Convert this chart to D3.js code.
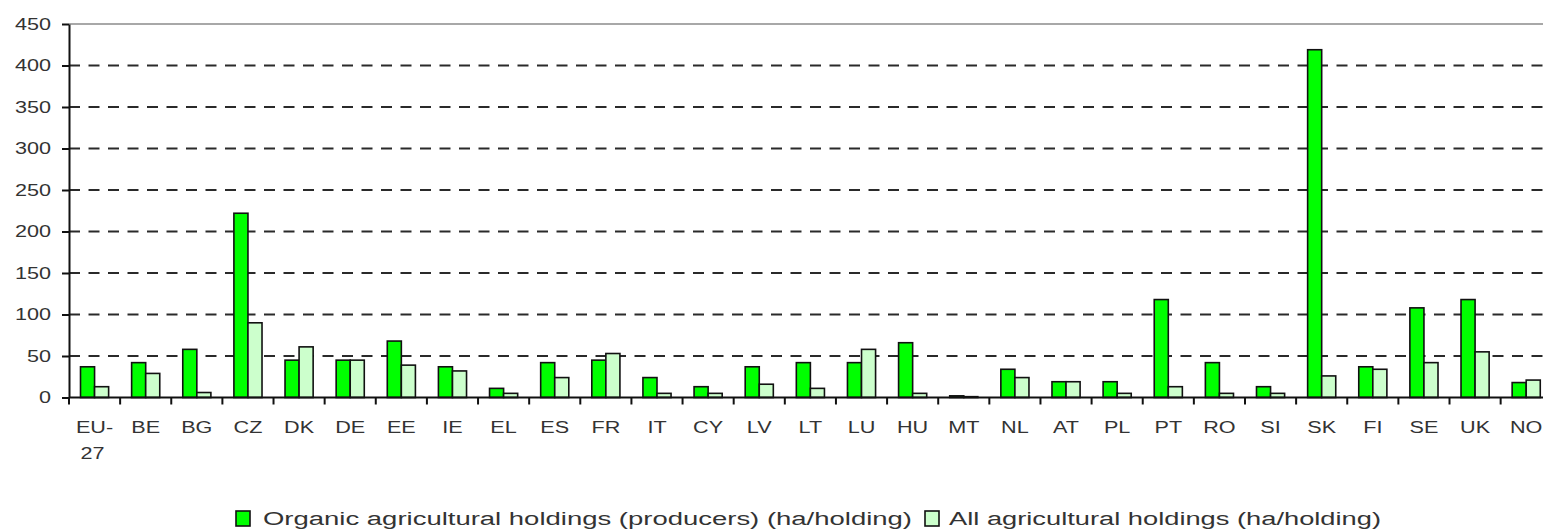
<!DOCTYPE html>
<html>
<head>
<meta charset="utf-8">
<script src="https://cdn.jsdelivr.net/npm/d3@7"></script>
<style>
  body { margin: 0; background: #fff; }
  svg { display: block; font-family: "Liberation Sans", Arial, sans-serif; }
  .axis text { fill: #333; font-size: 16px; }
</style>
</head>
<body>
<svg id="chart"></svg>
<script>
// country codes along the x axis
const categories = ["EU-27", "BE", "BG", "CZ", "DK", "DE", "EE", "IE", "EL", "ES", "FR", "IT", "CY", "LV",
  "LT", "LU", "HU", "MT", "NL", "AT", "PL", "PT", "RO", "SI", "SK", "FI", "SE", "UK", "NO"];

// ha per holding
const organic = [37, 42, 58, 222, 45, 45, 68, 37, 11, 42, 45, 24, 13, 37,
  42, 42, 66, 2, 34, 19, 19, 118, 42, 13, 419, 37, 108, 118, 18];
const allHoldings = [13, 29, 6, 90, 61, 45, 39, 32, 5, 24, 53, 5, 5, 16,
  11, 58, 5, 1, 24, 19, 5, 13, 5, 5, 26, 34, 42, 55, 21];

const seriesNames = ["Organic agricultural holdings (producers) (ha/holding)", "All agricultural holdings (ha/holding)"];
const seriesColors = ["#00ff00", "#ccffcc"];
const yTicks = [0, 50, 100, 150, 200, 250, 300, 350, 400, 450];

const W = 1543, H = 530;
const plotLeft = 69, plotTop = 24, plotBottom = 397.5;
const band = 51.13;
const stretch = 1.35; // the source picture is widened horizontally

const data = categories.map((c, i) => ({ category: c, values: [organic[i], allHoldings[i]] }));

const svg = d3.select("#chart").attr("width", W).attr("height", H);

const x = d3.scaleBand()
  .domain(categories)
  .range([plotLeft, plotLeft + band * categories.length])
  .padding(0);

const x1 = d3.scaleBand()
  .domain([0, 1])
  .range([x.bandwidth() * 0.225, x.bandwidth() * 0.775])
  .padding(0);

const y = d3.scaleLinear().domain([0, 450]).range([plotBottom, plotTop]);

// gridlines, dashed except the top one
svg.append("g").selectAll("line")
  .data(yTicks.filter(t => t > 0))
  .enter().append("line")
  .attr("x1", plotLeft).attr("x2", x.range()[1])
  .attr("y1", d => y(d)).attr("y2", d => y(d))
  .attr("stroke", d => d === 450 ? "#a8a8a8" : "#2a2a2a")
  .attr("stroke-width", 2)
  .attr("stroke-dasharray", d => d === 450 ? null : "11,8.5");

// bars
const groups = svg.append("g").selectAll("g")
  .data(data)
  .enter().append("g")
  .attr("transform", d => `translate(${x(d.category)},0)`);

groups.selectAll("rect")
  .data(d => d.values.map((v, k) => ({ k: k, v: v })))
  .enter().append("rect")
  .attr("x", d => x1(d.k))
  .attr("width", x1.bandwidth())
  .attr("y", d => y(d.v))
  .attr("height", d => plotBottom - y(d.v))
  .attr("fill", d => seriesColors[d.k])
  .attr("stroke", "#111")
  .attr("stroke-width", 1.6);

// y axis
const yAxis = svg.append("g")
  .attr("class", "axis")
  .attr("transform", `translate(${plotLeft},0)`)
  .call(d3.axisLeft(y).tickValues(yTicks).tickSize(7).tickSizeOuter(0).tickPadding(11));
yAxis.select(".domain").attr("stroke", "#111").attr("stroke-width", 2);
yAxis.selectAll(".tick line").attr("stroke", "#111").attr("stroke-width", 2);
yAxis.selectAll("text").style("font-size", "16px").attr("fill", "#333");

// x axis: baseline and ticks at the category boundaries
const xAxis = svg.append("g").attr("class", "axis");
xAxis.append("line")
  .attr("x1", plotLeft).attr("x2", x.range()[1])
  .attr("y1", plotBottom).attr("y2", plotBottom)
  .attr("stroke", "#111").attr("stroke-width", 2);

const bounds = categories.map(c => x(c)).concat([x.range()[1]]);
xAxis.selectAll(".xtick")
  .data(bounds)
  .enter().append("line")
  .attr("x1", d => d).attr("x2", d => d)
  .attr("y1", plotBottom).attr("y2", plotBottom + 7)
  .attr("stroke", "#111").attr("stroke-width", 2);

// category labels, EU-27 wraps onto two lines
xAxis.selectAll(".xlab")
  .data(categories)
  .enter().append("g")
  .each(function(c) {
    const lines = c === "EU-27" ? ["EU-", "27"] : [c];
    lines.forEach((t, j) => {
      d3.select(this).append("text")
        .attr("x", x(c) + x.bandwidth() / 2 + (j === 1 ? -2 : 0))
        .attr("y", 433 + j * 26)
        .attr("text-anchor", "middle")
        .text(t);
    });
  });

// widen every axis label a bit
svg.selectAll(".axis text").each(function() {
  const w = this.getComputedTextLength();
  d3.select(this).attr("textLength", w * stretch).attr("lengthAdjust", "spacingAndGlyphs");
});

// legend
const legendItems = [
  { sx: 236, tx: 263, len: 649 },
  { sx: 925, tx: 949, len: 432 }
];
const legend = svg.append("g");
legendItems.forEach((it, k) => {
  legend.append("rect")
    .attr("x", it.sx).attr("y", 511)
    .attr("width", 14).attr("height", 15)
    .attr("fill", seriesColors[k])
    .attr("stroke", "#111").attr("stroke-width", 1.6);
  legend.append("text")
    .attr("x", it.tx).attr("y", 525)
    .attr("fill", "#333")
    .style("font-size", "18px")
    .attr("textLength", it.len)
    .attr("lengthAdjust", "spacingAndGlyphs")
    .text(seriesNames[k]);
});
</script>
</body>
</html>
